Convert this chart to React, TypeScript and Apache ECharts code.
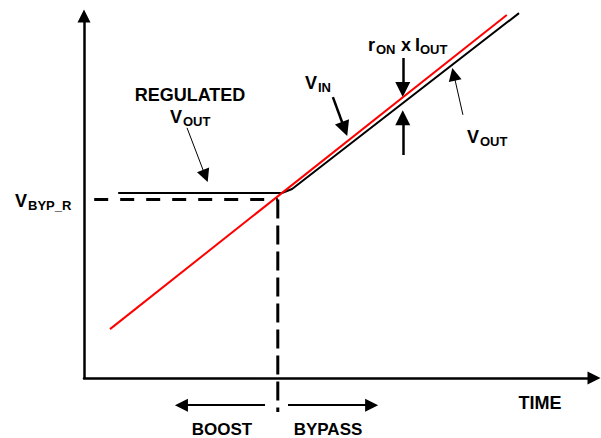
import React, { useEffect, useRef } from "react";
import * as echarts from "echarts";

// Diagram data (time 0..100, voltage 0..100 on the drawn axes)
const vinLine = [[5.1, 13.5], [82.9, 100.3]];
const voutLine = [[6.7, 51.1], [38.8, 51.1], [40.8, 52.2], [85.3, 100.8]];
const bypassLevel = [[2.0, 49.3], [38.0, 49.3]];
const bypassTime = [[38.0, 49.3], [38.0, -9.4]];
const thickArrows = [
  [[48.8, 77.6], [51.1, 68.8]],
  [[62.5, 88.4], [62.5, 79.7]],
  [[62.5, 61.6], [62.5, 71.9]],
];
const thinArrows = [
  [[20.2, 69.1], [23.8, 55.8]],
  [[74.3, 72.7], [72.5, 83.9]],
];
const modeArrows = [
  [[35.5, -7.5], [19.1, -7.5]],
  [[40.0, -7.5], [56.4, -7.5]],
];

const FONT = "'Liberation Sans', Arial, sans-serif";

function txt(text: string, x: number, y: number, size: number, align = "left") {
  return {
    type: "text",
    x,
    y,
    silent: true,
    style: {
      text,
      fill: "#000",
      fontFamily: FONT,
      fontWeight: "bold",
      fontSize: size,
      align,
      textAlign: align,
      verticalAlign: "middle",
      textVerticalAlign: "middle",
    },
  };
}

function arrowSeries(name: string, list: number[][][], width: number, size: number[]) {
  return {
    name,
    type: "lines",
    coordinateSystem: "cartesian2d",
    clip: false,
    silent: true,
    symbol: ["none", "triangle"],
    symbolSize: size,
    lineStyle: { color: "#000", width, type: "solid", opacity: 1 },
    data: list.map((a) => ({ coords: a })),
  };
}

export default function App() {
  const ref = useRef<HTMLDivElement>(null);
  useEffect(() => {
    document.body.style.margin = "0";
    const chart = echarts.init(ref.current!, null, { renderer: "svg" });
    const axisCommon = {
      type: "value",
      min: 0,
      max: 100,
      axisTick: { show: false },
      axisLabel: { show: false },
      splitLine: { show: false },
      axisLine: {
        show: true,
        onZero: false,
        symbol: ["none", "triangle"],
        symbolSize: [13, 13],
        lineStyle: { color: "#000", width: 2.5 },
      },
    };
    chart.setOption({
      animation: false,
      backgroundColor: "#fff",
      grid: { left: 84, right: 7, top: 16, bottom: 60 },
      xAxis: { ...axisCommon },
      yAxis: { ...axisCommon },
      series: [
        {
          name: "VOUT",
          type: "line",
          data: voutLine,
          symbol: "none",
          clip: false,
          lineStyle: { color: "#000", width: 2 },
        },
        {
          name: "VIN",
          type: "line",
          data: vinLine,
          symbol: "none",
          clip: false,
          lineStyle: { color: "#ff0000", width: 2 },
        },
        {
          name: "VBYP_R",
          type: "line",
          data: bypassLevel,
          symbol: "none",
          clip: false,
          lineStyle: { color: "#000", width: 3, type: [14, 12] },
        },
        {
          name: "bypass",
          type: "line",
          data: bypassTime,
          symbol: "none",
          clip: false,
          lineStyle: { color: "#000", width: 3, type: [19, 7] },
        },
        arrowSeries("thickArrows", thickArrows, 2.5, [11, 15]),
        arrowSeries("thinArrows", thinArrows, 1, [10, 13]),
        arrowSeries("modeArrows", modeArrows, 2, [12, 13]),
      ],
      graphic: [
        txt("REGULATED", 190, 95, 18, "center"),
        txt("V", 170, 117, 18),
        txt("OUT", 183, 121, 13),
        txt("V", 305, 83, 18),
        txt("IN", 318, 87, 13),
        txt("r", 368, 45, 18),
        txt("ON", 376, 49, 13),
        txt("x", 401, 45, 18),
        txt("I", 415, 45, 18),
        txt("OUT", 420, 49, 13),
        txt("V", 467, 137, 18),
        txt("OUT", 480, 141, 13),
        txt("V", 15, 201, 18),
        txt("BYP_R", 28, 205, 13),
        txt("TIME", 540, 403, 18, "center"),
        txt("BOOST", 222, 429, 17, "center"),
        txt("BYPASS", 328, 429, 17, "center"),
      ],
    });
    return () => chart.dispose();
  }, []);
  return <div ref={ref} style={{ width: 601, height: 438 }} />;
}
